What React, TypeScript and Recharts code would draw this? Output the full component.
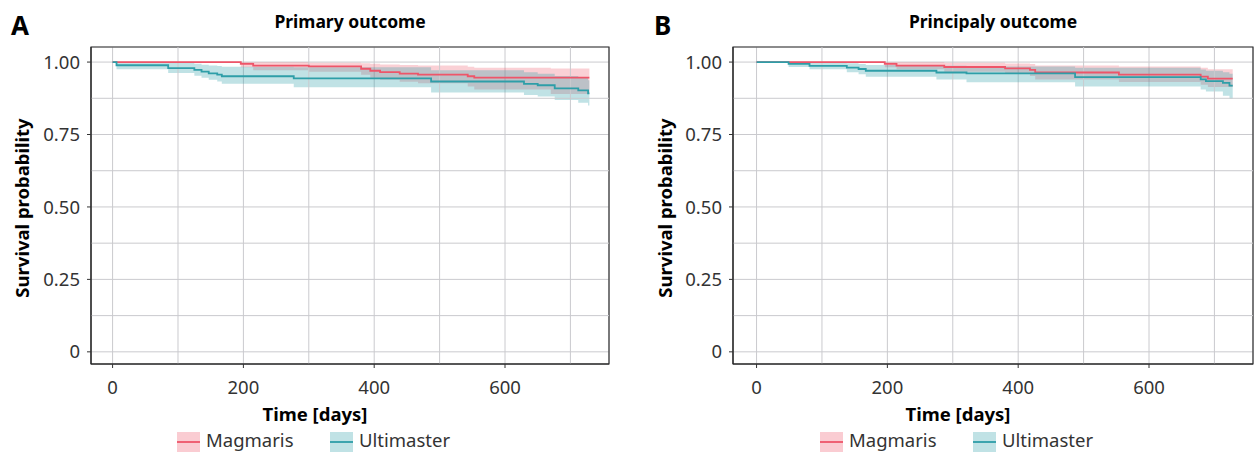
import React from "react";
import {
  ComposedChart,
  Line,
  Area,
  XAxis,
  YAxis,
  CartesianGrid,
  ReferenceLine,
  ReferenceArea,
} from "recharts";

const FONT = "'Noto Sans', sans-serif";
const RED = "#ee5569";
const TEAL = "#2e9ea8";
const GRID = "#cacace";

const xTicks = [0, 200, 400, 600];
const xMinor = [100, 300, 500, 700];
const yTicks = [0, 0.25, 0.5, 0.75, 1];
const yMinor = [0.125, 0.375, 0.625, 0.875];
const yDomain: [number, number] = [-0.042, 1.052];

// Panel A - primary outcome
const aMagDays = [0, 196, 215, 300, 380, 394, 409, 439, 467, 543, 553, 670, 729];
const aMagSurv = [1, 0.994, 0.988, 0.985, 0.977, 0.97, 0.965, 0.96, 0.957, 0.951, 0.946, 0.946, 0.946];
const aMagLow = [1, 0.982, 0.972, 0.967, 0.956, 0.946, 0.939, 0.932, 0.927, 0.916, 0.905, 0.89, 0.89];
const aMagHigh = [1, 1, 0.999, 0.998, 0.996, 0.994, 0.992, 0.99, 0.988, 0.984, 0.98, 0.978, 0.978];

const aUltDays = [0, 6, 85, 125, 136, 147, 160, 167, 277, 487, 629, 650, 676, 712, 727, 729];
const aUltSurv = [1, 0.989, 0.979, 0.973, 0.967, 0.961, 0.957, 0.951, 0.944, 0.933, 0.925, 0.92, 0.909, 0.902, 0.892, 0.892];
const aUltLow = [1, 0.975, 0.962, 0.953, 0.946, 0.939, 0.933, 0.925, 0.913, 0.895, 0.886, 0.881, 0.869, 0.86, 0.85, 0.85];
const aUltHigh = [1, 1, 0.997, 0.994, 0.991, 0.988, 0.986, 0.984, 0.982, 0.972, 0.965, 0.96, 0.952, 0.945, 0.937, 0.937];

// Panel B - principaly outcome
const bMagDays = [0, 196, 214, 287, 380, 418, 426, 554, 679, 690, 728];
const bMagSurv = [1, 0.994, 0.988, 0.983, 0.978, 0.973, 0.964, 0.957, 0.95, 0.943, 0.943];
const bMagLow = [1, 0.982, 0.975, 0.967, 0.96, 0.952, 0.94, 0.931, 0.922, 0.914, 0.914];
const bMagHigh = [1, 1, 0.999, 0.998, 0.995, 0.993, 0.988, 0.985, 0.98, 0.975, 0.975];

const bUltDays = [0, 49, 81, 138, 156, 167, 275, 321, 487, 679, 687, 713, 723, 728];
const bUltSurv = [1, 0.994, 0.987, 0.981, 0.976, 0.97, 0.964, 0.961, 0.948, 0.94, 0.934, 0.928, 0.919, 0.919];
const bUltLow = [1, 0.983, 0.975, 0.965, 0.958, 0.949, 0.94, 0.93, 0.916, 0.905, 0.898, 0.884, 0.873, 0.873];
const bUltHigh = [1, 1, 0.999, 0.996, 0.993, 0.99, 0.987, 0.985, 0.98, 0.974, 0.97, 0.965, 0.96, 0.96];

const legendNames = ["Magmaris", "Ultimaster"];
const legendColors = [RED, TEAL];

type Row = { day: number; surv: number; band: [number, number] };

function toRows(days: number[], surv: number[], low: number[], high: number[]): Row[] {
  return days.map((d, i) => ({ day: d, surv: surv[i], band: [low[i], high[i]] }));
}

const tickStyle = { fontSize: 18.5, fill: "#333", fontFamily: FONT };

function KmPanel({
  mag,
  ult,
  width,
  axisWidth,
  right,
  xDomain,
}: {
  mag: Row[];
  ult: Row[];
  width: number;
  axisWidth: number;
  right: number;
  xDomain: [number, number];
}) {
  return (
    <ComposedChart width={width} height={452} margin={{ top: 47, right, bottom: 0, left: 0 }}>
      <CartesianGrid stroke={GRID} strokeWidth={1} />
      {xMinor.map((v) => (
        <ReferenceLine key={"x" + v} x={v} stroke={GRID} strokeWidth={1} />
      ))}
      {yMinor.map((v) => (
        <ReferenceLine key={"y" + v} y={v} stroke={GRID} strokeWidth={1} />
      ))}
      <XAxis
        dataKey="day"
        type="number"
        domain={xDomain}
        ticks={xTicks}
        allowDataOverflow
        height={88}
        tick={tickStyle}
        tickSize={4}
        tickMargin={13}
        tickLine={{ stroke: "#333" }}
        axisLine={{ stroke: "#222" }}
      />
      <YAxis
        type="number"
        domain={yDomain}
        ticks={yTicks}
        allowDataOverflow
        width={axisWidth}
        tick={tickStyle}
        tickSize={4}
        tickMargin={7}
        tickLine={{ stroke: "#333" }}
        axisLine={{ stroke: "#222" }}
        tickFormatter={(v: number) => (v === 0 ? "0" : v.toFixed(2))}
      />
      <Area
        data={mag}
        dataKey="band"
        type="stepAfter"
        stroke="none"
        fill={RED}
        fillOpacity={0.28}
        isAnimationActive={false}
      />
      <Area
        data={ult}
        dataKey="band"
        type="stepAfter"
        stroke="none"
        fill={TEAL}
        fillOpacity={0.3}
        isAnimationActive={false}
      />
      <Line
        data={mag}
        dataKey="surv"
        type="stepAfter"
        stroke={RED}
        strokeWidth={1.8}
        dot={false}
        activeDot={false}
        isAnimationActive={false}
      />
      <Line
        data={ult}
        dataKey="surv"
        type="stepAfter"
        stroke={TEAL}
        strokeWidth={1.8}
        dot={false}
        activeDot={false}
        isAnimationActive={false}
      />
      <ReferenceArea
        x1={xDomain[0]}
        x2={xDomain[1]}
        y1={yDomain[0]}
        y2={yDomain[1]}
        fill="none"
        stroke="#333"
        strokeWidth={1.2}
        ifOverflow="visible"
      />
    </ComposedChart>
  );
}

function Annotations({ dx, letter, title }: { dx: number; letter: string; title: string }) {
  return (
    <g fontFamily={FONT}>
      <text x={11 + dx} y={35} fontSize={26} fontWeight={700} fill="#000">
        {letter}
      </text>
      <text x={350 + dx} y={28} fontSize={17.5} fontWeight={700} fill="#000" textAnchor="middle">
        {title}
      </text>
      <text
        x={29 + dx}
        y={208}
        fontSize={18.5}
        fontWeight={700}
        fill="#000"
        textAnchor="middle"
        transform={`rotate(-90 ${29 + dx} 208)`}
      >
        Survival probability
      </text>
      <text x={315 + dx} y={421} fontSize={18.5} fontWeight={700} fill="#000" textAnchor="middle">
        Time [days]
      </text>
      {legendNames.map((name, i) => {
        const kx = (i === 0 ? 177 : 330) + dx;
        return (
          <g key={name}>
            <rect x={kx} y={432} width={23} height={20} fill={legendColors[i]} fillOpacity={0.3} />
            <line x1={kx} x2={kx + 23} y1={442} y2={442} stroke={legendColors[i]} strokeWidth={1.8} />
            <text x={kx + 29} y={447} fontSize={18.5} fill="#333">
              {name}
            </text>
          </g>
        );
      })}
    </g>
  );
}

export default function App() {
  const aMag = toRows(aMagDays, aMagSurv, aMagLow, aMagHigh);
  const aUlt = toRows(aUltDays, aUltSurv, aUltLow, aUltHigh);
  const bMag = toRows(bMagDays, bMagSurv, bMagLow, bMagHigh);
  const bUlt = toRows(bUltDays, bUltSurv, bUltLow, bUltHigh);

  return (
    <div
      style={{
        position: "absolute",
        left: 0,
        top: 0,
        width: 1255,
        height: 452,
        background: "#fff",
        fontFamily: FONT,
        overflow: "hidden",
      }}
    >
      <div style={{ position: "absolute", left: 0, top: 0 }}>
        <KmPanel mag={aMag} ult={aUlt} width={627} axisWidth={91} right={18} xDomain={[-33, 759]} />
      </div>
      <div style={{ position: "absolute", left: 640, top: 0 }}>
        <KmPanel mag={bMag} ult={bUlt} width={615} axisWidth={93} right={2} xDomain={[-36, 759]} />
      </div>
      <svg width={1255} height={452} style={{ position: "absolute", left: 0, top: 0, pointerEvents: "none" }}>
        <Annotations dx={0} letter="A" title="Primary outcome" />
        <Annotations dx={643} letter="B" title="Principaly outcome" />
      </svg>
    </div>
  );
}
